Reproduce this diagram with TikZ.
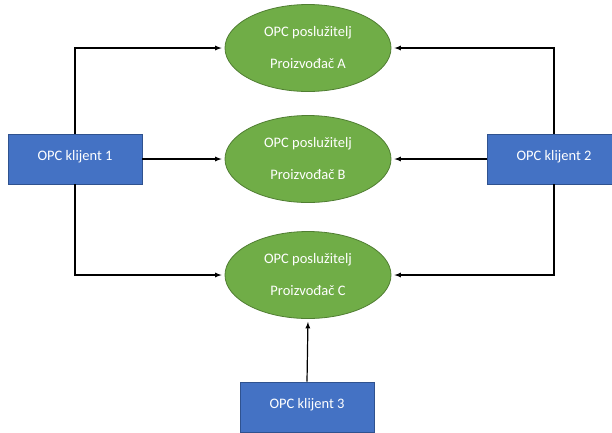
\documentclass[tikz,border=0pt]{standalone}
\usepackage{fontspec}
\setmainfont{Carlito}
\usepackage{tikz}
\usetikzlibrary{shapes.geometric}

\definecolor{srvgreen}{HTML}{70AD47}
\definecolor{srvedge}{HTML}{507E32}
\definecolor{clblue}{HTML}{4472C4}
\definecolor{cledge}{HTML}{2F528F}

\begin{document}
\begin{tikzpicture}[x=1pt,y=-1pt,every node/.style={font=\fontsize{14.5}{17}\selectfont,text=white},
  server/.style={ellipse,draw=srvedge,fill=srvgreen,line width=0.8pt,minimum width=166pt,minimum height=87pt,
    inner sep=0pt,align=center,font=\fontsize{14.5}{32}\selectfont},
  client/.style={rectangle,draw=cledge,fill=clblue,line width=0.8pt,minimum width=134pt,minimum height=50pt,text depth=8pt},
  link/.style={->,>=latex,line width=1.2pt,shorten >=3pt}]
  \useasboundingbox (0,0) rectangle (612,432);
  \node[server] (srvA) at (308,48) {OPC poslužitelj\\Proizvođač A};
  \node[server] (srvB) at (308,159) {OPC poslužitelj\\Proizvođač B};
  \node[server] (srvC) at (308,275) {OPC poslužitelj\\Proizvođač C};
  \node[client] (cl1) at (75,159) {OPC klijent 1};
  \node[client] (cl2) at (554,159) {OPC klijent 2};
  \node[client] (cl3) at (307,407) {OPC klijent 3};
  \draw[link] (cl1.north) |- (srvA.west);
  \draw[link] (cl1.east) -- (srvB.west);
  \draw[link] (cl1.south) |- (srvC.west);
  \draw[link] (cl2.north) |- (srvA.east);
  \draw[link] (cl2.west) -- (srvB.east);
  \draw[link] (cl2.south) |- (srvC.east);
  \draw[link] (cl3.north) -- (srvC.south);
\end{tikzpicture}
\end{document}
